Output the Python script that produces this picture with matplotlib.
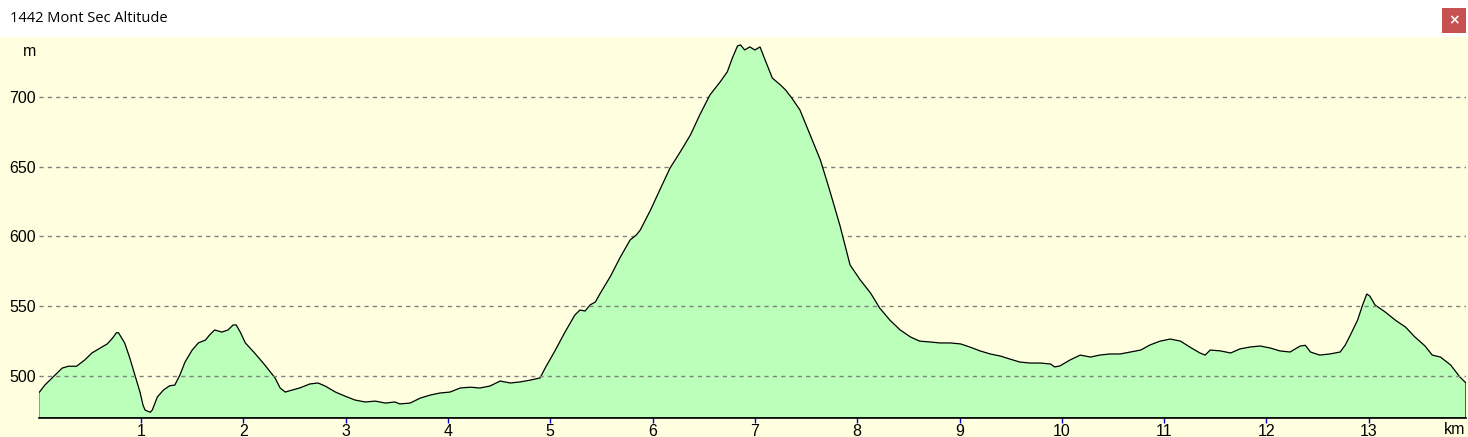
import numpy as np
import matplotlib
matplotlib.use("Agg")
import matplotlib.pyplot as plt
from matplotlib.patches import Rectangle

TITLE = "1442 Mont Sec Altitude"

# distance along the route (km) and altitude (m)
km = [0.00, 0.06, 0.16, 0.23, 0.29, 0.37, 0.45, 0.52, 0.60, 0.67, 0.72, 0.76, 0.78,
      0.84, 0.89, 0.94, 0.99, 1.02, 1.04, 1.09, 1.11, 1.16, 1.22, 1.28, 1.33, 1.38,
      1.43, 1.50, 1.56, 1.63, 1.67, 1.72, 1.79, 1.85, 1.90, 1.93, 1.97, 2.02, 2.11,
      2.21, 2.31, 2.36, 2.41, 2.48, 2.55, 2.65, 2.73, 2.80, 2.90, 2.99, 3.09, 3.19,
      3.29, 3.39, 3.48, 3.53, 3.63, 3.73, 3.83, 3.92, 4.02, 4.12, 4.22, 4.31, 4.41,
      4.51, 4.61, 4.70, 4.80, 4.90, 4.95, 5.05, 5.14, 5.24, 5.29, 5.34, 5.39, 5.44,
      5.49, 5.59, 5.68, 5.78, 5.84, 5.88, 5.98, 6.07, 6.17, 6.27, 6.37, 6.46, 6.56,
      6.66, 6.73, 6.78, 6.83, 6.86, 6.90, 6.95, 7.00, 7.05, 7.10, 7.17, 7.25, 7.30,
      7.36, 7.44, 7.54, 7.64, 7.73, 7.83, 7.93, 8.03, 8.13, 8.22, 8.32, 8.42, 8.52,
      8.61, 8.71, 8.81, 8.91, 9.01, 9.10, 9.20, 9.30, 9.40, 9.49, 9.59, 9.69, 9.79,
      9.89, 9.93, 9.98, 10.08, 10.18, 10.28, 10.37, 10.47, 10.57, 10.67, 10.77, 10.86,
      10.96, 11.06, 11.16, 11.25, 11.35, 11.40, 11.45, 11.55, 11.65, 11.74, 11.84,
      11.94, 12.04, 12.13, 12.23, 12.33, 12.38, 12.43, 12.52, 12.62, 12.72, 12.77,
      12.82, 12.89, 12.94, 12.98, 13.01, 13.06, 13.16, 13.26, 13.36, 13.45, 13.55,
      13.62, 13.70, 13.80, 13.89, 13.95]
alt = [487.8, 493.5, 500.7, 505.7, 507.0, 507.0, 511.5, 516.5, 520.0, 523.0, 527.0,
       531.0, 531.0, 523.7, 513.0, 500.7, 488.5, 479.0, 475.6, 474.0, 475.6, 485.0,
       490.0, 493.0, 493.5, 500.7, 510.0, 518.6, 523.7, 525.8, 529.4, 533.0, 531.5,
       533.0, 536.6, 536.6, 531.5, 523.7, 516.5, 507.9, 498.6, 491.4, 488.5, 490.0,
       491.4, 494.3, 495.0, 492.8, 488.5, 485.7, 482.8, 481.4, 482.0, 480.6, 481.4,
       480.0, 480.6, 484.2, 486.4, 487.8, 488.5, 491.4, 492.0, 491.4, 492.8, 496.4,
       495.0, 495.7, 497.0, 498.6, 505.7, 518.6, 531.0, 543.7, 547.3, 546.6, 551.0,
       553.0, 559.5, 571.7, 584.6, 597.5, 601.0, 604.7, 619.0, 633.3, 649.0, 660.6,
       672.8, 687.0, 701.4, 710.8, 718.0, 728.0, 736.6, 737.3, 733.7, 735.9, 733.7,
       735.9, 726.5, 713.6, 708.6, 705.0, 699.3, 690.7, 672.8, 654.8, 633.3, 608.2,
       579.6, 568.8, 559.5, 548.7, 540.0, 533.0, 528.0, 525.0, 524.4, 523.7, 523.7,
       523.0, 520.8, 518.0, 515.8, 514.3, 512.2, 510.0, 509.3, 509.3, 508.6, 506.5,
       507.2, 511.5, 515.0, 513.6, 515.0, 515.8, 515.8, 517.2, 518.6, 522.2, 525.0,
       526.5, 525.0, 520.8, 516.5, 515.0, 518.6, 518.0, 516.5, 519.4, 520.8, 521.5,
       520.0, 518.0, 517.2, 521.5, 522.0, 517.2, 515.0, 515.8, 517.2, 522.2, 529.4,
       540.0, 551.0, 558.8, 557.3, 551.0, 545.9, 540.0, 535.0, 528.0, 521.5, 515.0,
       513.6, 507.9, 499.3, 495.0]

y_ticks = [500, 550, 600, 650, 700]
x_ticks = list(range(1, 14))

YMIN, YMAX = 469.9, 743.0
W, H = 1468, 437
FS = 11.5

fig = plt.figure(figsize=(W / 100, H / 100), dpi=100)
fig.patch.set_facecolor("white")

# window chrome: yellow panel, title, close button
fig.patches.append(Rectangle((0, 0), 1, (H - 37) / H, transform=fig.transFigure,
                             facecolor="#FFFFE0", edgecolor="none", zorder=-5))
fig.text(10 / W, 1 - 18 / H, TITLE, fontsize=10.5, family="Open Sans",
         va="center", ha="left")
fig.patches.append(Rectangle((1442 / W, 1 - 33 / H), 24 / W, 25 / H,
                             transform=fig.transFigure, facecolor="#C75050",
                             edgecolor="none", zorder=-4))
fig.text(1454 / W, 1 - 20.5 / H, "\u00d7", color="white", fontsize=10,
         fontweight="bold", ha="center", va="center")

ax = fig.add_axes([38.7 / W, (H - 418) / H, (1466 - 38.7) / W, (418 - 37) / H])
ax.set_zorder(2)
ax.set_facecolor("none")
ax.set_xlim(0, 13.95)
ax.set_ylim(YMIN, YMAX)

xs = np.r_[km[0], km, km[-1]]
ys = np.r_[YMIN, alt, YMIN]
ax.fill(xs, ys, facecolor="#BBFFBB", edgecolor="black", linewidth=0.9, zorder=2)

for v in y_ticks:
    # the app paints the lower grid lines over the profile, the upper ones under it
    ax.axhline(v, color="#808080", linestyle=(0, (3, 3)), linewidth=1.0,
               zorder=3 if v <= 550 else 1)

for s in ["left", "right", "top"]:
    ax.spines[s].set_visible(False)
ax.spines["bottom"].set_color("black")
ax.spines["bottom"].set_linewidth(1.2)
ax.spines["bottom"].set_zorder(4)

ax.set_yticks(y_ticks)
ax.set_xticks(x_ticks)
ax.tick_params(axis="y", length=0, pad=2, labelsize=FS)
ax.tick_params(axis="x", length=3.5, width=1, color="#0000CC", direction="out",
               pad=1, labelsize=FS)
for lab in ax.get_xticklabels() + ax.get_yticklabels():
    lab.set_family("Liberation Sans")

fig.text(30 / W, 1 - 52 / H, "m", fontsize=FS, family="Liberation Sans",
         ha="center", va="center")
fig.text(1455 / W, 1 - 429 / H, "km", fontsize=FS, family="Liberation Sans",
         ha="center", va="center")

fig.savefig("out.png", dpi=100, facecolor=fig.get_facecolor())
